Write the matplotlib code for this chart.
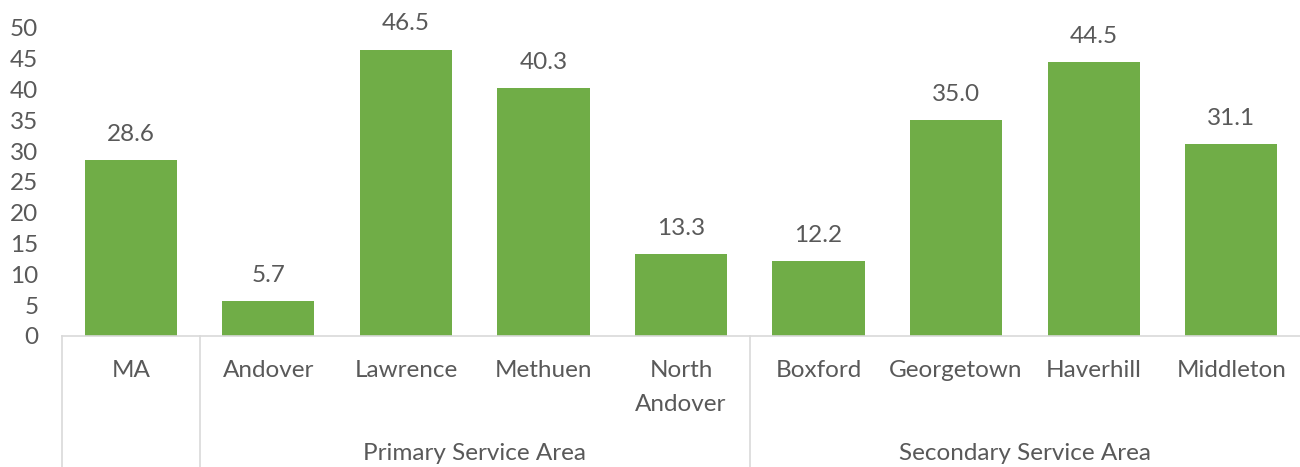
import matplotlib.pyplot as plt
import matplotlib.transforms as mtransforms

towns = ["MA", "Andover", "Lawrence", "Methuen", "North\nAndover",
         "Boxford", "Georgetown", "Haverhill", "Middleton"]
values = [28.6, 5.7, 46.5, 40.3, 13.3, 12.2, 35.0, 44.5, 31.1]
groups = ["", "Primary Service Area", "Secondary Service Area"]
group_sizes = [1, 4, 4]
yticks = [0, 5, 10, 15, 20, 25, 30, 35, 40, 45, 50]

plt.rcParams["font.family"] = ["Lato", "DejaVu Sans"]
text_color = "#595959"
line_color = "#D9D9D9"
fs = 17.5

fig = plt.figure(figsize=(13, 4.67), dpi=100)
ax = fig.add_axes([62 / 1300, 131 / 467, 1238 / 1300, 308 / 467])

x = list(range(len(towns)))
bars = ax.bar(x, values, width=0.67, color="#70AD47")
for xi, v in zip(x, values):
    ax.annotate(f"{v:.1f}", (xi, v), xytext=(0, 18.5), textcoords="offset points",
                ha="center", va="center", fontsize=fs, color=text_color)

ax.set_xlim(-0.5, len(towns) - 0.5)
ax.set_ylim(0, 50)
ax.set_yticks(yticks)
ax.tick_params(axis="y", length=0, labelsize=fs, labelcolor=text_color, pad=17)
ax.set_xticks([])
for s in ["top", "right", "left"]:
    ax.spines[s].set_visible(False)
ax.spines["bottom"].set_color(line_color)
ax.spines["bottom"].set_linewidth(1.2)

trans = mtransforms.blended_transform_factory(ax.transData, ax.transAxes)
h = 308
for xi, name in zip(x, towns):
    ax.text(xi, -24 / h, name, transform=trans, ha="center", va="top",
            fontsize=fs, color=text_color, linespacing=1.75)

start = 0
bounds = [-0.5]
for g, n in zip(groups, group_sizes):
    mid = start + (n - 1) / 2
    if g:
        ax.text(mid, -118 / h, g, transform=trans, ha="center", va="center",
                fontsize=fs, color=text_color)
    start += n
    bounds.append(start - 0.5)
for b in bounds[:-1]:
    ax.plot([b, b], [0, -131 / h], transform=trans, color=line_color,
            lw=1.2, clip_on=False)

fig.savefig("out.png", dpi=100)
